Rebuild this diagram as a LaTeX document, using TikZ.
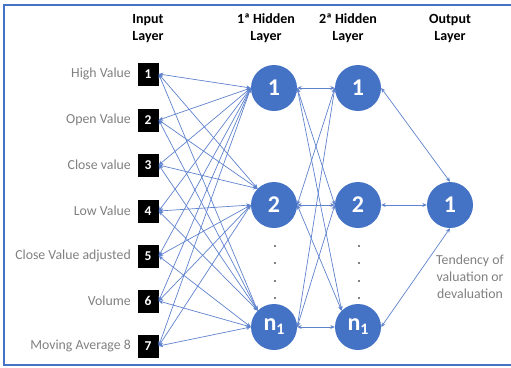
\documentclass[tikz,border=0pt]{standalone}
\usepackage{fontspec}
\setmainfont{Carlito}
\usetikzlibrary{arrows.meta}
\definecolor{nblue}{RGB}{68,114,196}
\definecolor{lblue}{RGB}{95,130,205}
\definecolor{tgray}{RGB}{128,128,128}
\begin{document}
\begin{tikzpicture}[x=1pt,y=-1pt,
 inbox/.style={fill=black,text=white,font=\bfseries\fontsize{13.5}{13.5}\selectfont,minimum width=21pt,minimum height=23pt,inner sep=0pt},
 neuron/.style={circle,fill=nblue,text=white,font=\bfseries\fontsize{24}{24}\selectfont,minimum size=46pt,inner sep=0pt},
 lbl/.style={text=tgray,font=\fontsize{13.8}{16}\selectfont,anchor=east,inner sep=0pt},
 head/.style={font=\bfseries\fontsize{14}{17}\selectfont,align=center,inner sep=0pt},
 note/.style={text=tgray,font=\fontsize{13.8}{17}\selectfont,align=center,inner sep=0pt},
 conn/.style={lblue,line width=0.7pt,{Stealth[length=4.5pt,width=4pt]}-{Stealth[length=4.5pt,width=4pt]}},
 frame/.style={nblue,line width=2.5pt}]
\useasboundingbox (0,0) rectangle (511,367);
\draw[frame] (511,5) -- (4,5) -- (4,365) -- (511,365);
% headers
\node[head] (hIn) at (148,28.5) {Input\\Layer};
\node[head] (hH1) at (266,28.5) {1ª Hidden\\Layer};
\node[head] (hH2) at (348,28.5) {2ª Hidden\\Layer};
\node[head] (hOut) at (450,28.5) {Output\\Layer};
% inputs
\foreach \i/\y/\t in {1/74/High Value,2/120/Open Value,3/165/Close value,4/211/Low Value,5/256/Close Value adjusted,6/301/Volume,7/346/Moving Average 8}{
  \node[inbox] (in\i) at (148,\y) {\i};
  \node[lbl] (l\i) at (131,\y) {\t};
}
% hidden layers
\node[neuron] (ha) at (274,88) {1};
\node[neuron] (hb) at (274,205) {2};
\node[neuron] (hn) at (274,327) {n\raisebox{-0.35ex}{\fontsize{16}{16}\selectfont 1}};
\node[neuron] (ga) at (358,88) {1};
\node[neuron] (gb) at (358,205) {2};
\node[neuron] (gn) at (358,327) {n\raisebox{-0.35ex}{\fontsize{16}{16}\selectfont 1}};
\node[neuron] (o) at (450,205) {1};
\node[note] (t) at (470,277) {Tendency of\\valuation or\\devaluation};
% dots
\foreach \x in {275,359}{\foreach \y in {246,263,281,298}{\fill (\x,\y) circle (0.9);}}
% input -> hidden 1
\foreach \i in {1,...,7}{\draw[conn] (in\i.east) -- (ha.180);}
\foreach \i in {1,2,3}{\draw[conn] (in\i.east) -- (hb.135);}
\foreach \i in {4,...,7}{\draw[conn] (in\i.east) -- (hb.180);}
\foreach \i in {1,...,4}{\draw[conn] (in\i.east) -- (hn.135);}
\foreach \i in {5,6,7}{\draw[conn] (in\i.east) -- (hn.180);}
% hidden 1 -> hidden 2
\foreach \s in {ha,hb,hn}{
  \draw[conn] (\s.east) -- (ga.west);
  \draw[conn] (\s.east) -- (gb.west);
}
\draw[conn] (ha.east) -- (gn.135);
\draw[conn] (hb.east) -- (gn.135);
\draw[conn] (hn.east) -- (gn.west);
% hidden 2 -> output
\draw[conn] (ga.east) -- (o.north);
\draw[conn] (gb.east) -- (o.west);
\draw[conn] (gn.east) -- (o.south);
\end{tikzpicture}
\end{document}
